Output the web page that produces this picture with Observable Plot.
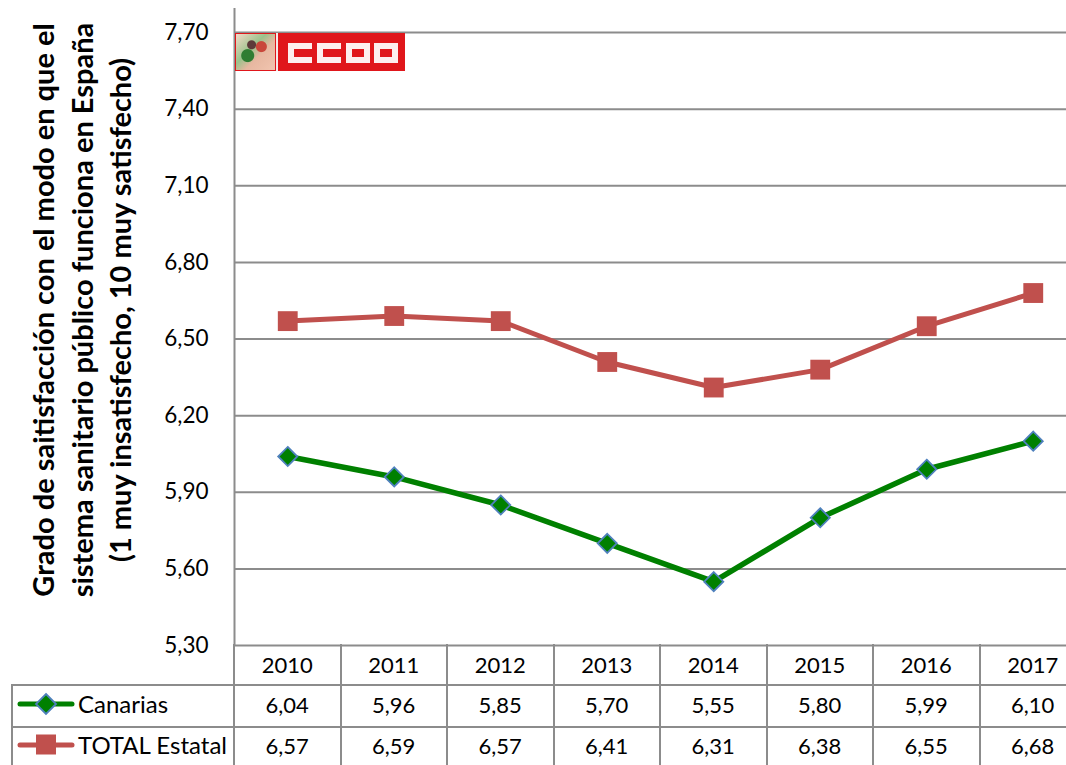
<!DOCTYPE html>
<html><head><meta charset="utf-8">
<script src="https://cdn.jsdelivr.net/npm/d3@7"></script>
<script src="https://cdn.jsdelivr.net/npm/@observablehq/plot@0.6"></script>
<style>
html,body{margin:0;padding:0;background:#fff;overflow:hidden;width:1066px;height:765px;}
#wrap{position:relative;width:1066px;height:765px;overflow:hidden;font-family:Lato,"Open Sans",sans-serif;color:#000;}
#chart{position:absolute;left:0;top:0;width:1086px;height:645px;}
#chart svg{max-width:none !important;}
#ytitle{position:absolute;left:-239px;top:253px;width:640px;height:114px;transform:rotate(-90deg);transform-origin:50% 50%;
  text-align:center;font-weight:bold;font-size:29px;line-height:38.5px;white-space:nowrap;}
.hl{position:absolute;height:2px;background:#8c8c8c;}
.vl{position:absolute;width:2px;background:#8c8c8c;}
.cell{position:absolute;text-align:center;font-size:22px;line-height:22px;white-space:nowrap;}
#logo{position:absolute;left:235px;top:33px;width:170px;height:38px;background:#e0161b;}
#logo .img{position:absolute;left:1px;top:1px;width:39px;height:36px;background:
  radial-gradient(circle at 30% 60%, #2f7d32 0 6px, transparent 7px),
  radial-gradient(circle at 65% 35%, #c9473b 0 5px, transparent 6px),
  radial-gradient(circle at 40% 30%, #5d3a3a 0 4px, transparent 5px),
  linear-gradient(135deg,#f4d9c8 0%,#9bc28b 40%,#e7b7a0 60%,#f1c5b0 100%);}
#logo .sep{position:absolute;left:41px;top:0;width:2px;height:38px;background:#f5e9e9;}
.let{position:absolute;top:10px;width:24px;height:20px;box-sizing:border-box;border:6px solid #fdeeee;}
.let.c{border-right:none;}
</style>
</head><body>
<div id="wrap">
  <div id="chart"></div>
  <div id="ytitle">Grado de saitisfacción con el modo en que el<br>sistema sanitario público funciona en España<br>(1 muy insatisfecho, 10 muy satisfecho)</div>
  <div id="logo"><div class="img"></div><div class="sep"></div>
    <div class="let c" style="left:53px"></div><div class="let c" style="left:82px"></div>
    <div class="let" style="left:111px"></div><div class="let" style="left:139px"></div></div>
</div>
<script>
const years = [2010, 2011, 2012, 2013, 2014, 2015, 2016, 2017];
const canarias = [6.04, 5.96, 5.85, 5.70, 5.55, 5.80, 5.99, 6.10];
const totalEstatal = [6.57, 6.59, 6.57, 6.41, 6.31, 6.38, 6.55, 6.68];
const seriesNames = ["Canarias", "TOTAL Estatal"];
const yTicks = [5.30, 5.60, 5.90, 6.20, 6.50, 6.80, 7.10, 7.40, 7.70];

const fmt = d => d.toFixed(2).replace(".", ",");
const redC = "#C0504D", greenC = "#008000", blueC = "#4F81BD";

const chart = Plot.plot({
  width: 1086, height: 645,
  marginLeft: 234, marginRight: 0, marginTop: 32, marginBottom: 0,
  x: {type: "linear", domain: [2009.5, 2017.5], axis: null},
  y: {domain: [5.3, 7.7], axis: null},
  style: {fontFamily: "Lato, 'Open Sans', sans-serif", fontSize: "22px", color: "#000", overflow: "visible", background: "transparent", maxWidth: "none"},
  marks: [
    Plot.ruleY(yTicks, {stroke: "#8c8c8c", strokeWidth: 2, strokeOpacity: 1}),
    Plot.ruleX([2009.5], {y1: 5.3, y2: 7.794, stroke: "#8c8c8c", strokeWidth: 2, strokeOpacity: 1}),
    Plot.axisY(yTicks, {tickFormat: fmt, tickSize: 0, tickPadding: 26, fontSize: 22.5, label: null, fill: "#000"}),
    Plot.line(totalEstatal, {x: (d, i) => years[i], y: d => d, stroke: redC, strokeWidth: 5}),
    Plot.dot(totalEstatal, {x: (d, i) => years[i], y: d => d, symbol: "square", r: 11.2, fill: redC, stroke: "none"}),
    Plot.line(canarias, {x: (d, i) => years[i], y: d => d, stroke: greenC, strokeWidth: 5.5}),
    Plot.dot(canarias, {x: (d, i) => years[i], y: d => d, symbol: "diamond2", r: 8.6, fill: greenC, stroke: blueC, strokeWidth: 1.8})
  ]
});
chart.style.maxWidth = "none";
document.getElementById("chart").appendChild(chart);

// Data table below the chart, positioned with the chart's x scale
const xs = chart.scale("x");
const X = v => xs.apply(v);
const wrap = document.getElementById("wrap");
function add(cls, css, html) {
  const d = document.createElement("div");
  d.className = cls;
  Object.assign(d.style, css);
  if (html != null) d.innerHTML = html;
  wrap.appendChild(d);
  return d;
}
const rowTops = [645, 685, 727];
const xRight = X(2017.5);
add("hl", {left: "12px", top: (rowTops[1] - 1) + "px", width: (xRight - 12) + "px"});
add("hl", {left: "12px", top: (rowTops[2] - 1) + "px", width: (xRight - 12) + "px"});
add("vl", {left: "11px", top: (rowTops[1] - 1) + "px", height: "90px"});
for (let k = 0; k <= years.length; k++) {
  const xv = X(2009.5 + k);
  add("vl", {left: (xv - 1) + "px", top: (rowTops[0] - 1) + "px", height: "130px"});
}
const cellW = X(2010.5) - X(2009.5);
const rowsVals = [years.map(String), canarias.map(fmt), totalEstatal.map(fmt)];
const rowCenters = [664.5, 705, 746];
rowsVals.forEach((vals, r) => {
  vals.forEach((t, i) => {
    add("cell", {left: (X(years[i]) - cellW / 2) + "px", width: cellW + "px", top: (rowCenters[r] - 11) + "px"}, t);
  });
});
const legendSvg = (color, sym) => {
  const shape = sym === "square"
    ? `<rect x="18" y="0.5" width="20" height="20" fill="${color}"/>`
    : `<path d="M28,1 L38,11 L28,21 L18,11 Z" fill="${greenC}" stroke="${blueC}" stroke-width="1.8"/>`;
  return `<svg width="56" height="22" style="position:absolute;left:0;top:0;overflow:visible"><line x1="2" y1="11" x2="54" y2="11" stroke="${color}" stroke-width="5" stroke-linecap="round"/>${shape}</svg>`;
};
seriesNames.forEach((name, j) => {
  const cy = rowCenters[j + 1];
  const d = add("cell", {left: "18px", top: (cy - 12) + "px", width: "214px", textAlign: "left", height: "24px"});
  d.innerHTML = legendSvg(j === 0 ? greenC : redC, j === 0 ? "diamond" : "square") +
    `<span style="position:absolute;left:60px;top:-1px;font-size:24px;line-height:24px">${name}</span>`;
});
</script>
</body></html>
